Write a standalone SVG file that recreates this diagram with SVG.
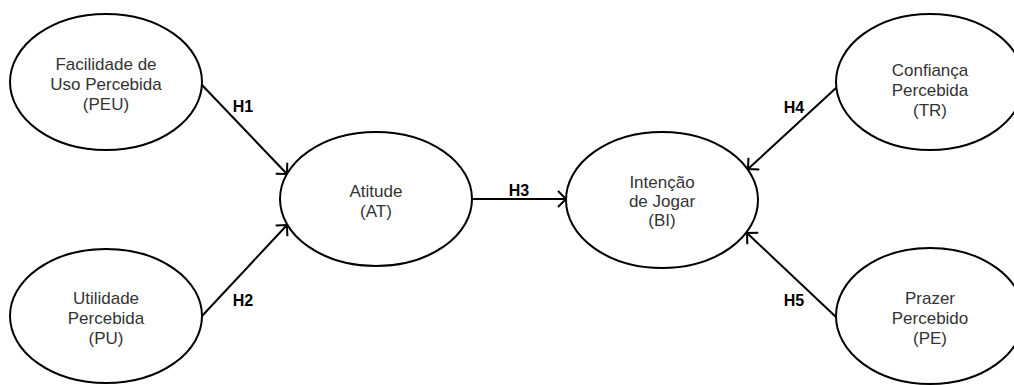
<svg xmlns="http://www.w3.org/2000/svg" width="1014" height="385" viewBox="0 0 1014 385">
  <defs>
    <marker id="open-arrow" markerUnits="userSpaceOnUse" markerWidth="20" markerHeight="20" viewBox="-10 -10 20 20" refX="0" refY="0" orient="auto">
      <path d="M-8,-8 L0,0 L-8,8" fill="none" stroke="#000" stroke-width="2"/>
    </marker>
    <style>
      .node ellipse { fill: #fff; stroke: #000; stroke-width: 2; }
      .node text { font-family: "Liberation Sans", Arial, sans-serif; font-size: 17px; fill: #333; text-anchor: middle; }
      .edge line { stroke: #000; stroke-width: 2; marker-end: url(#open-arrow); }
      .edge text { font-family: "Liberation Sans", Arial, sans-serif; font-size: 16px; font-weight: bold; fill: #000; text-anchor: middle; }
    </style>
  </defs>
  <rect width="1014" height="385" fill="#fff"/>

  <g id="connectors" class="edge">
    <line x1="202" y1="85" x2="287" y2="174"/>
    <line x1="202" y1="316" x2="287" y2="225"/>
    <line x1="472" y1="199" x2="566" y2="199"/>
    <line x1="836" y1="88" x2="748" y2="169"/>
    <line x1="836" y1="317" x2="747" y2="233"/>
    <text x="243" y="112">H1</text>
    <text x="243" y="306">H2</text>
    <text x="519" y="196">H3</text>
    <text x="794" y="113">H4</text>
    <text x="794" y="306">H5</text>
  </g>

  <g id="peu" class="node">
    <ellipse cx="106" cy="82" rx="96" ry="68"/>
    <text x="106" y="70">Facilidade de</text>
    <text x="106" y="90">Uso Percebida</text>
    <text x="106" y="110">(PEU)</text>
  </g>

  <g id="pu" class="node">
    <ellipse cx="106" cy="316" rx="96" ry="67"/>
    <text x="106" y="304">Utilidade</text>
    <text x="106" y="324">Percebida</text>
    <text x="106" y="344">(PU)</text>
  </g>

  <g id="at" class="node">
    <ellipse cx="376" cy="199" rx="96" ry="67"/>
    <text x="376" y="197">Atitude</text>
    <text x="376" y="217">(AT)</text>
  </g>

  <g id="bi" class="node">
    <ellipse cx="662" cy="200" rx="96" ry="68"/>
    <text x="662" y="188">Intenção</text>
    <text x="662" y="207">de Jogar</text>
    <text x="662" y="226">(BI)</text>
  </g>

  <g id="tr" class="node">
    <ellipse cx="930" cy="82" rx="94" ry="68"/>
    <text x="930" y="76">Confiança</text>
    <text x="930" y="96">Percebida</text>
    <text x="930" y="116">(TR)</text>
  </g>

  <g id="pe" class="node">
    <ellipse cx="930" cy="316" rx="94" ry="68"/>
    <text x="930" y="304">Prazer</text>
    <text x="930" y="324">Percebido</text>
    <text x="930" y="344">(PE)</text>
  </g>
</svg>
